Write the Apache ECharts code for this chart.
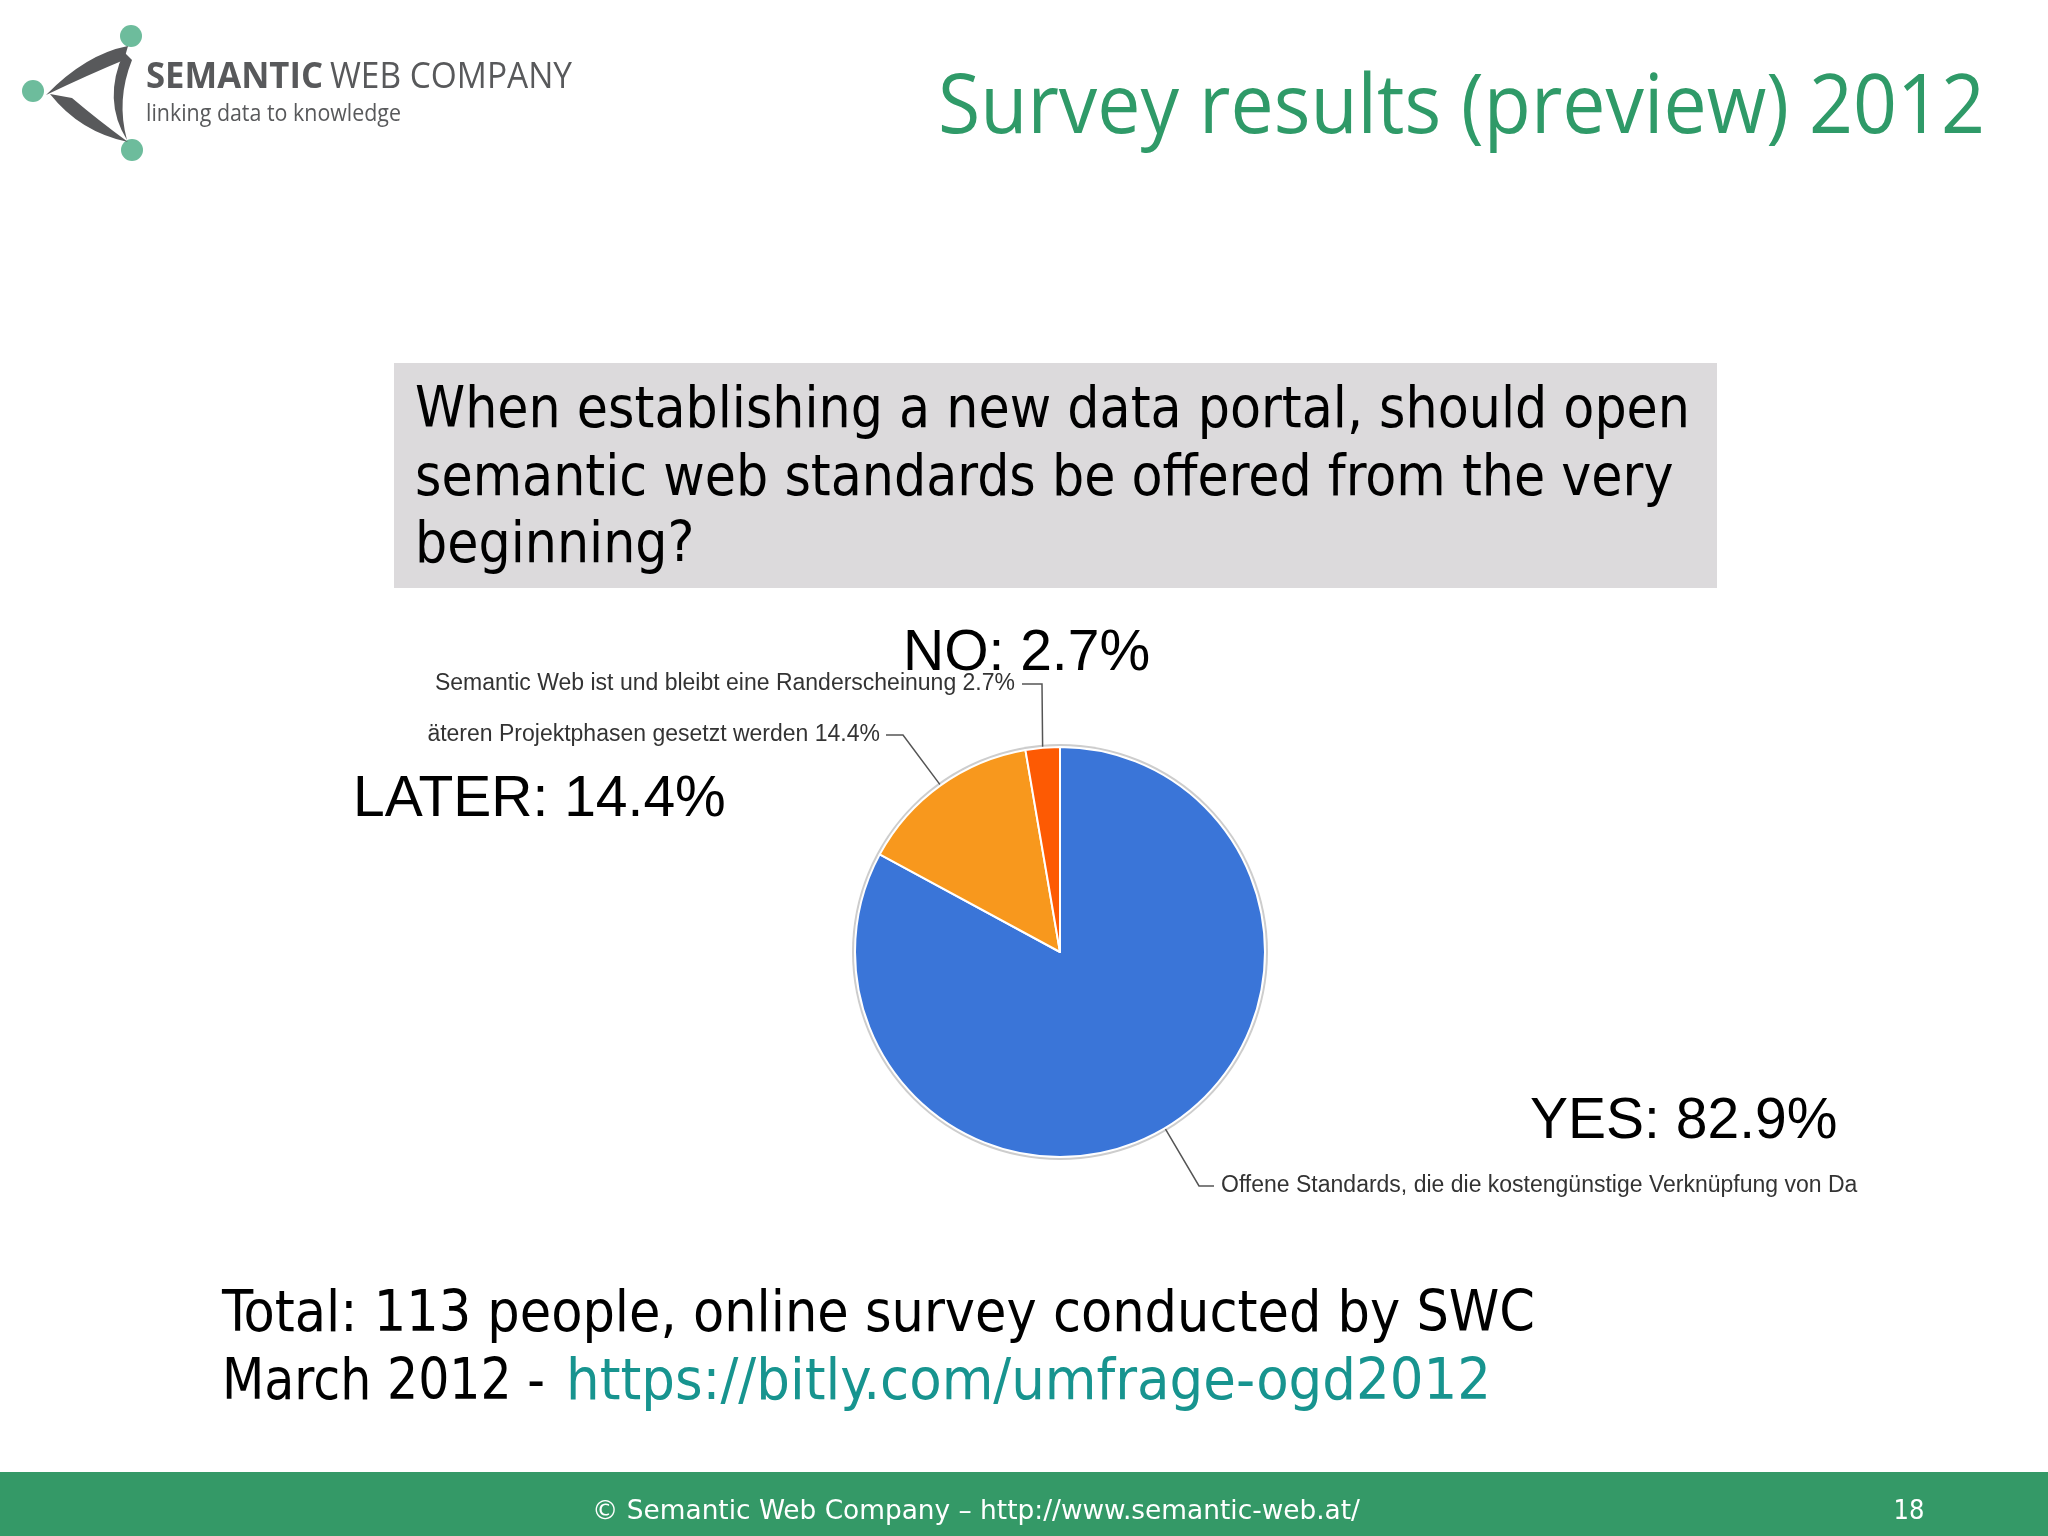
<!DOCTYPE html>
<html><head><meta charset="utf-8">
<script src="https://cdn.jsdelivr.net/npm/echarts@6/dist/echarts.min.js"></script>
<style>html,body{margin:0;padding:0;background:#fff}#chart{width:2048px;height:1536px}</style>
</head><body><div id="chart"></div>
<script>
// ---- data ----
const categories = ['YES', 'LATER', 'NO'];
const values = [82.9, 14.4, 2.7];
const detailTexts = [
  'Offene Standards, die die kostengünstige Verknüpfung von Daten ermöglichen',
  'äteren Projektphasen gesetzt werden',
  'Semantic Web ist und bleibt eine Randerscheinung'
];
const sliceColors = ['#3a75d8', '#f8981d', '#fd5a03'];
const titleText = 'Survey results (preview) 2012';
const questionLines = [
  'When establishing a new data portal, should open',
  'semantic web standards be offered from the very',
  'beginning?'
];
const noteLine1 = 'Total: 113 people, online survey conducted by SWC';
const noteLine2a = 'March 2012 -';
const noteLink = 'https://bitly.com/umfrage-ogd2012';
const footerText = '\u00A9 Semantic Web Company \u2013 http://www.semantic-web.at/';
const pageNumber = '18';
const logoBold = 'SEMANTIC';
const logoRest = 'WEB COMPANY';
const logoTag = 'linking data to knowledge';

// ---- helpers ----
const ctx2d = document.createElement('canvas').getContext('2d');
function measure(text, font) { ctx2d.font = font; return ctx2d.measureText(text).width; }
const condFam = '"DejaVu Sans Condensed", "DejaVu Sans", sans-serif';
const arialFam = '"Liberation Sans", Arial, sans-serif';

// logo swoosh shapes
echarts.graphic.registerShape('swooshA', echarts.graphic.extendPath('M128,46 Q86,54 46,95 Q90,74 124,60 Z'));
echarts.graphic.registerShape('swooshB', echarts.graphic.extendPath('M50,94 Q80,132 128,142 Q98,120 72,98 Z'));
echarts.graphic.registerShape('swooshC', echarts.graphic.extendPath('M124,52 Q102,100 127,140 Q116,100 132,60 Z'));

const chart = echarts.init(document.getElementById('chart'), null, {renderer: 'canvas'});

const qSize = 57;
const qFont = qSize + 'px ' + condFam;
const qScale = 1275 / measure(questionLines[0], qFont);
const nSize = 57;
const nFont = nSize + 'px ' + condFam;
const nScale = 1313 / measure(noteLine1, nFont);
const n2Scale = 323 / measure(noteLine2a, nFont);
const linkScale = 925 / measure(noteLink, nFont);
const tSize = 82;
const tFont = tSize + 'px "Open Sans", sans-serif';
const tScale = 1047 / measure(titleText, tFont);
const fSize = 27;
const fFont = fSize + 'px ' + condFam;
const fScale = 768 / measure(footerText, fFont);
const lbFont = 'bold 36px "Open Sans", sans-serif';
const lbScale = 177 / measure(logoBold, lbFont);
const lrFont = '36px "Open Sans", sans-serif';
const lrScale = 242 / measure(logoRest, lrFont);
const ltFont = '24px "Open Sans", sans-serif';
const ltScale = 255 / measure(logoTag, ltFont);

function txt(text, x, y, font, fill, sx, align) {
  return {
    type: 'text', x: x, y: y, scaleX: sx || 1, z: 10,
    style: {text: text, x: 0, y: 0, font: font, fill: fill, align: align || 'left', verticalAlign: 'middle'}
  };
}

const graphics = [
  {type: 'rect', shape: {x: 0, y: 1472, width: 2048, height: 64}, style: {fill: '#349967'}, z: 1},
  txt(footerText, 592, 1512, fFont, '#ffffff', fScale),
  txt(pageNumber, 1909, 1512, fFont, '#ffffff', 1, 'center'),
  {type: 'rect', shape: {x: 394, y: 363, width: 1323, height: 225}, style: {fill: '#dcdadc'}, z: 1},
  txt(questionLines[0], 415, 412, qFont, '#000', qScale),
  txt(questionLines[1], 415, 480, qFont, '#000', qScale),
  txt(questionLines[2], 415, 547, qFont, '#000', qScale),
  txt(titleText, 1985, 110, tFont, '#2f9a68', tScale, 'right'),
  txt(noteLine1, 222, 1316, nFont, '#000', nScale),
  txt(noteLine2a, 222, 1384, nFont, '#000', n2Scale),
  txt(noteLink, 566, 1384, nFont, '#17948f', linkScale),
  {type: 'circle', shape: {cx: 131, cy: 36, r: 11}, style: {fill: '#6dbc9c'}, z: 5},
  {type: 'circle', shape: {cx: 33, cy: 91, r: 11}, style: {fill: '#6dbc9c'}, z: 5},
  {type: 'circle', shape: {cx: 132, cy: 150, r: 11}, style: {fill: '#6dbc9c'}, z: 5},
  {type: 'swooshA', style: {fill: '#58595b'}, z: 5},
  {type: 'swooshB', style: {fill: '#58595b'}, z: 5},
  {type: 'swooshC', style: {fill: '#58595b'}, z: 5},
  txt(logoBold, 146, 78, lbFont, '#58595b', lbScale),
  txt(logoRest, 330, 78, lrFont, '#58595b', lrScale),
  txt(logoTag, 146, 114, ltFont, '#58595b', ltScale)
];

const bigPos = [[1530, 1122], [353, 800], [903, 654]];
categories.forEach(function (c, i) {
  graphics.push(txt(c + ': ' + values[i] + '%', bigPos[i][0], bigPos[i][1], '57px ' + arialFam, '#000', 1));
});

const anchors = [
  {tx: 1221, ty: 1186, align: 'left', pts: [[1199, 1186], [1214, 1186]]},
  {tx: 880, ty: 735, align: 'right', pts: [[903, 735], [886, 735]]},
  {tx: 1015, ty: 684, align: 'right', pts: [[1042, 684], [1022, 684]]}
];

const option = {
  backgroundColor: '#ffffff',
  animation: false,
  graphic: graphics,
  series: [
    {
      type: 'pie', silent: true, center: [1060, 952], radius: 208, z: 1,
      data: [{value: 1, itemStyle: {color: '#cdcdcd'}}],
      label: {show: false}, labelLine: {show: false}
    },
    {
      type: 'pie', center: [1060, 952], radius: 205, startAngle: 90, clockwise: true,
      avoidLabelOverlap: false, z: 2,
      data: categories.map(function (c, i) {
        const d = {name: c, value: values[i], itemStyle: {color: sliceColors[i]}};
        if (i === 0) d.label = {width: 652, overflow: 'truncate', ellipsis: ''};
        return d;
      }),
      itemStyle: {borderColor: '#ffffff', borderWidth: 2},
      label: {
        show: true,
        formatter: function (p) { return detailTexts[p.dataIndex] + ' ' + p.value + '%'; },
        fontFamily: arialFam, fontSize: 23, color: '#333'
      },
      labelLine: {show: true, length: 20, length2: 20, lineStyle: {color: '#555', width: 1.5}},
      labelLayout: function (params) {
        const a = anchors[params.dataIndex];
        const start = (params.labelLinePoints && params.labelLinePoints[0]) || a.pts[0];
        return {
          x: a.tx, y: a.ty, align: a.align, verticalAlign: 'middle',
          labelLinePoints: [start, a.pts[0], a.pts[1]]
        };
      }
    }
  ]
};
chart.setOption(option);
</script>
</body></html>
